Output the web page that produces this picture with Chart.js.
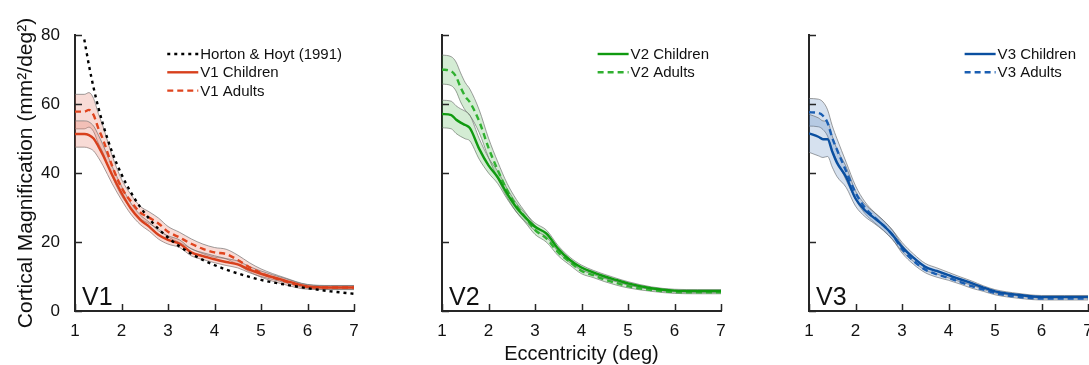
<!DOCTYPE html>
<html>
<head>
<meta charset="utf-8">
<script src="https://cdn.jsdelivr.net/npm/chart.js@4.4.0/dist/chart.umd.min.js"></script>
<style>
  html, body { margin: 0; padding: 0; background: #fff; overflow: hidden; width: 1089px; height: 365px; }
  canvas { position: absolute; top: 0; }
</style>
</head>
<body>
<canvas id="v1Chart" width="365" height="365" style="left:0px"></canvas>
<canvas id="v2Chart" width="365" height="365" style="left:367px"></canvas>
<canvas id="v3Chart" width="370" height="365" style="left:734px"></canvas>
<script>
// eccentricity sample points (deg) shared by every curve
const eccentricity = [1, 1.2, 1.3, 1.4, 1.5, 1.6, 1.8, 2.0, 2.2, 2.4, 2.6, 2.8, 3.0, 3.25, 3.5, 3.75, 4.0, 4.25, 4.5, 4.75, 5.0, 5.5, 6.0, 6.5, 7.0];
const xTicks = [1, 2, 3, 4, 5, 6, 7];
const yTicks = [0, 20, 40, 60, 80];

// Horton & Hoyt (1991) reference curve, only shown in V1 (off scale at 1 deg)
const hortonHoyt = [null, 78.7, 71.2, 64.7, 59.1, 54.2, 46.0, 39.6, 34.4, 30.2, 26.7, 23.7, 21.3, 18.7, 16.6, 14.8, 13.3, 12.0, 10.9, 9.9, 9.0, 7.7, 6.6, 5.7, 5.0];

// V1
const v1Children    = [51.3, 51.3, 51.0, 50.0, 47.8, 45.2, 39.4, 34.2, 29.7, 26.5, 24.4, 22.0, 20.6, 19.5, 17.0, 15.9, 15.0, 14.2, 13.5, 12.0, 10.8, 8.9, 7.1, 6.8, 6.8];
const v1ChildrenErr = [3.8, 3.8, 3.8, 3.6, 3.3, 3.0, 2.5, 2.0, 1.6, 1.4, 1.3, 1.2, 1.2, 1.1, 1.0, 1.0, 1.0, 1.0, 1.0, 0.9, 0.8, 0.6, 0.5, 0.5, 0.5];
const v1Adults      = [57.8, 57.8, 58.3, 56.8, 53.0, 49.8, 42.0, 35.8, 31.8, 28.6, 27.0, 25.3, 23.0, 21.3, 19.5, 18.0, 17.0, 16.5, 14.8, 12.7, 11.0, 8.7, 7.0, 6.8, 6.8];
const v1AdultsErr   = [5.0, 5.0, 5.0, 4.8, 4.3, 3.8, 3.0, 2.4, 2.0, 1.8, 1.7, 1.6, 1.5, 1.5, 1.4, 1.4, 1.4, 1.4, 1.4, 1.3, 1.2, 1.0, 0.7, 0.6, 0.6];

// V2
const v2Children    = [57.1, 56.8, 55.5, 54.6, 53.9, 53.0, 47.0, 42.2, 38.7, 34.0, 30.0, 27.0, 24.4, 22.4, 18.0, 14.8, 12.6, 11.2, 10.0, 9.0, 8.0, 6.6, 5.9, 5.8, 5.8];
const v2ChildrenErr = [4.0, 4.0, 4.0, 4.0, 4.0, 3.7, 3.0, 2.2, 1.8, 1.5, 1.3, 1.2, 1.1, 1.0, 0.9, 0.8, 0.7, 0.6, 0.6, 0.5, 0.5, 0.4, 0.4, 0.4, 0.4];
const v2Adults      = [70.0, 69.5, 68.0, 64.8, 62.2, 60.5, 55.0, 47.3, 40.8, 35.0, 30.5, 27.0, 23.5, 21.0, 17.0, 14.2, 11.6, 10.4, 9.1, 8.1, 7.2, 6.1, 5.5, 5.4, 5.4];
const v2AdultsErr   = [4.2, 4.2, 4.2, 4.2, 4.0, 3.8, 3.3, 2.8, 2.4, 2.0, 1.8, 1.5, 1.3, 1.1, 1.0, 0.9, 0.8, 0.7, 0.6, 0.6, 0.5, 0.4, 0.4, 0.4, 0.4];

// V3
const v3Children    = [51.5, 50.5, 49.8, 49.8, 46.2, 43.0, 38.8, 32.6, 29.2, 27.0, 24.8, 22.0, 18.6, 15.4, 12.8, 11.6, 10.4, 9.2, 8.1, 6.8, 5.7, 4.7, 4.1, 4.1, 4.1];
const v3ChildrenErr = [5.5, 5.5, 5.3, 5.0, 4.5, 4.0, 3.0, 2.2, 1.8, 1.6, 1.5, 1.4, 1.3, 1.1, 1.0, 0.9, 0.8, 0.7, 0.6, 0.5, 0.5, 0.4, 0.4, 0.4, 0.4];
const v3Adults      = [57.6, 57.4, 56.6, 54.5, 50.2, 46.8, 40.5, 34.3, 30.0, 27.2, 24.8, 22.0, 18.0, 14.5, 12.0, 10.6, 9.6, 8.4, 7.2, 6.2, 5.2, 4.1, 3.6, 3.6, 3.6];
const v3AdultsErr   = [4.0, 4.0, 4.0, 3.8, 3.5, 3.2, 2.6, 2.0, 1.7, 1.5, 1.4, 1.3, 1.2, 1.0, 0.9, 0.8, 0.7, 0.6, 0.6, 0.5, 0.5, 0.4, 0.4, 0.4, 0.4];

const fontFamily = "'Liberation Sans', Arial, Helvetica, sans-serif";
const axisColor = '#262626';
const textColor = '#111';
const bandEdge = 'rgba(110,110,110,0.75)';

const pts = vals => eccentricity.map((x, i) => ({ x: x, y: vals[i] }));

// inward ticks, panel name and the small legend in the top right corner
const panelDecor = {
    id: 'panelDecor',
    afterDraw(chart, args, opts) {
        const { ctx, chartArea: area } = chart;
        const x = chart.scales.x, y = chart.scales.y;
        ctx.save();
        ctx.strokeStyle = axisColor;
        ctx.lineWidth = 1.5;
        ctx.beginPath();
        x.ticks.forEach(t => {
            const px = Math.round(x.getPixelForValue(t.value)) + 0.5;
            ctx.moveTo(px, area.bottom);
            ctx.lineTo(px, area.bottom - 7);
        });
        y.ticks.forEach(t => {
            const py = Math.round(y.getPixelForValue(t.value)) + 0.5;
            ctx.moveTo(area.left, py);
            ctx.lineTo(area.left + 7, py);
        });
        ctx.stroke();

        ctx.fillStyle = textColor;
        ctx.font = '25px ' + fontFamily;
        ctx.textBaseline = 'alphabetic';
        ctx.fillText(opts.label, area.left + 7, area.bottom - 6);

        const items = chart.data.datasets.filter(d => d.legendLabel);
        ctx.font = '15px ' + fontFamily;
        const textW = Math.max(...items.map(d => ctx.measureText(d.legendLabel).width));
        const sample = 31;
        const lx = area.right - 12 - textW - sample - 2;
        items.forEach((d, i) => {
            const ly = area.top + 19 + i * 18.3;
            ctx.strokeStyle = d.borderColor;
            ctx.lineWidth = d.borderWidth;
            ctx.setLineDash(d.borderDash || []);
            ctx.beginPath();
            ctx.moveTo(lx, ly);
            ctx.lineTo(lx + sample, ly);
            ctx.stroke();
            ctx.setLineDash([]);
            ctx.fillStyle = textColor;
            ctx.textBaseline = 'middle';
            ctx.fillText(d.legendLabel, lx + sample + 2, ly + 1);
        });
        ctx.restore();
    }
};

function makePanel(canvasId, cfg) {
    const datasets = [];
    // lines first: lower index is drawn on top
    cfg.lines.forEach(l => {
        datasets.push({
            legendLabel: l.label,
            data: pts(l.values),
            borderColor: l.color,
            borderWidth: l.width || 2.4,
            borderDash: l.dash || [],
            pointRadius: 0,
            fill: false,
            cubicInterpolationMode: 'monotone'
        });
    });
    cfg.lines.filter(l => l.err).forEach(l => {
        const upper = l.values.map((v, i) => v + l.err[i]);
        const lower = l.values.map((v, i) => v - l.err[i]);
        datasets.push({
            data: pts(upper),
            borderColor: bandEdge,
            borderWidth: 0.9,
            backgroundColor: l.band,
            fill: datasets.length + 1,
            pointRadius: 0,
            cubicInterpolationMode: 'monotone'
        });
        datasets.push({
            data: pts(lower),
            borderColor: bandEdge,
            borderWidth: 0.9,
            fill: false,
            pointRadius: 0,
            cubicInterpolationMode: 'monotone'
        });
    });

    new Chart(document.getElementById(canvasId), {
        type: 'line',
        data: { datasets: datasets },
        options: {
            responsive: false,
            animation: false,
            events: [],
            layout: { padding: { top: 35, right: cfg.padRight, left: 0, bottom: 0 } },
            plugins: {
                legend: { display: false },
                tooltip: { enabled: false },
                panelDecor: { label: cfg.name }
            },
            scales: {
                x: {
                    type: 'linear',
                    min: 1,
                    max: 7,
                    afterBuildTicks: s => { s.ticks = xTicks.map(v => ({ value: v })); },
                    afterFit: s => { s.height = 54; },
                    grid: { display: false },
                    border: { color: axisColor, width: 2 },
                    ticks: { color: textColor, font: { size: 17, family: fontFamily }, padding: 2, maxRotation: 0 },
                    title: {
                        display: !!cfg.xTitle,
                        text: cfg.xTitle || '',
                        color: textColor,
                        font: { size: 20, family: fontFamily },
                        padding: { top: 0, bottom: -1 }
                    }
                },
                y: {
                    min: 0,
                    max: 80,
                    afterBuildTicks: s => { s.ticks = yTicks.map(v => ({ value: v })); },
                    afterFit: s => { s.width = 75; },
                    grid: { display: false },
                    border: { color: axisColor, width: 2 },
                    ticks: {
                        color: cfg.yLabels ? textColor : 'rgba(0,0,0,0)',
                        font: { size: 17, family: fontFamily },
                        padding: 7
                    },
                    title: {
                        display: !!cfg.yTitle,
                        text: cfg.yTitle || '',
                        color: textColor,
                        font: { size: 21, family: fontFamily },
                        padding: { top: 14, bottom: 0 }
                    }
                }
            }
        },
        plugins: [panelDecor]
    });
}

makePanel('v1Chart', {
    name: 'V1',
    padRight: 11,
    yLabels: true,
    yTitle: 'Cortical Magnification (mm\u00B2/deg\u00B2)',
    lines: [
        { label: 'Horton & Hoyt (1991)', values: hortonHoyt, color: '#000000', dash: [3, 4], width: 2.4 },
        { label: 'V1 Children', values: v1Children, err: v1ChildrenErr, color: '#d8401c', band: 'rgba(228,110,90,0.25)' },
        { label: 'V1 Adults', values: v1Adults, err: v1AdultsErr, color: '#e0451f', dash: [6, 4], band: 'rgba(228,110,90,0.25)' }
    ]
});

makePanel('v2Chart', {
    name: 'V2',
    padRight: 11,
    yLabels: false,
    xTitle: 'Eccentricity (deg)',
    lines: [
        { label: 'V2 Children', values: v2Children, err: v2ChildrenErr, color: '#109a10', band: 'rgba(60,170,60,0.22)' },
        { label: 'V2 Adults', values: v2Adults, err: v2AdultsErr, color: '#30b030', dash: [6, 4], band: 'rgba(60,170,60,0.22)' }
    ]
});

makePanel('v3Chart', {
    name: 'V3',
    padRight: 16,
    yLabels: false,
    lines: [
        { label: 'V3 Children', values: v3Children, err: v3ChildrenErr, color: '#0a4fa0', band: 'rgba(70,120,180,0.22)' },
        { label: 'V3 Adults', values: v3Adults, err: v3AdultsErr, color: '#1a5eb2', dash: [6, 4], band: 'rgba(70,120,180,0.22)' }
    ]
});
</script>
</body>
</html>
